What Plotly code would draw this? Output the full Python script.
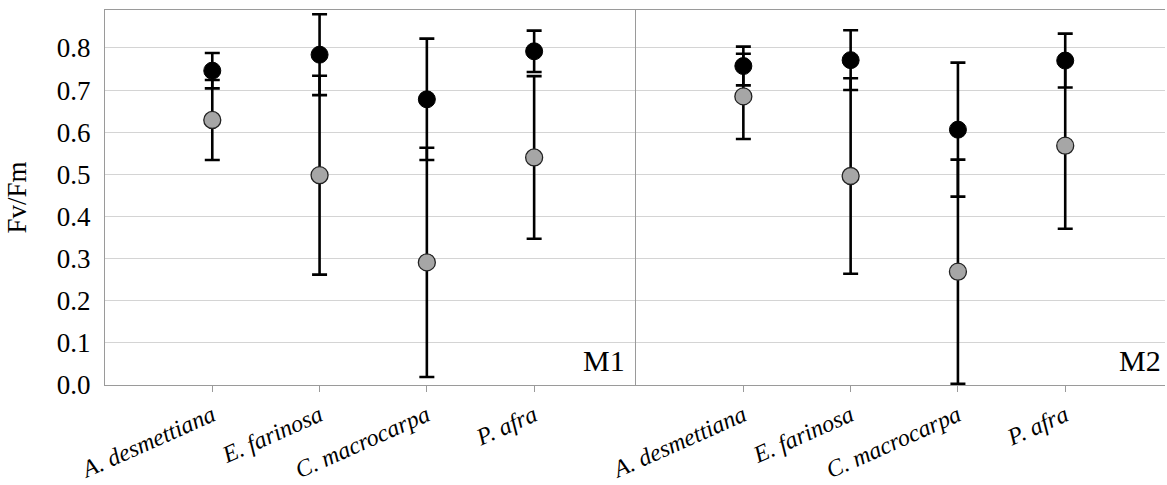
import plotly.graph_objects as go

species = ["A. desmettiana", "E. farinosa", "C. macrocarpa", "P. afra"]
panels = ["M1", "M2"]

# black series (mean, error)
black_m1 = [0.746, 0.784, 0.678, 0.792]
black_m1_err = [0.042, 0.096, 0.144, 0.049]
grey_m1 = [0.629, 0.498, 0.291, 0.540]
grey_m1_err = [0.095, 0.236, 0.272, 0.193]

black_m2 = [0.757, 0.771, 0.606, 0.770]
black_m2_err = [0.046, 0.071, 0.159, 0.064]
grey_m2 = [0.685, 0.496, 0.269, 0.568]
grey_m2_err = [0.101, 0.232, 0.266, 0.197]

y_ticks = [0.0, 0.1, 0.2, 0.3, 0.4, 0.5, 0.6, 0.7, 0.8]

FONT = "Liberation Serif"
AXIS_GREY = "#9a9a9a"
GRID = "#d4d4d4"

fig = go.Figure()

xs = list(range(len(species)))
data = [(black_m1, black_m1_err, grey_m1, grey_m1_err),
        (black_m2, black_m2_err, grey_m2, grey_m2_err)]
axis_ids = [("x", "y"), ("x2", "y2")]

for (bm, be, gm, ge), (xa, ya) in zip(data, axis_ids):
    fig.add_trace(go.Scatter(
        x=xs, y=gm, mode="markers", xaxis=xa, yaxis=ya,
        marker=dict(size=17, color="#a6a6a6", line=dict(color="#222222", width=1.3)),
        error_y=dict(type="data", array=ge, visible=True, color="black", thickness=2.6, width=7.5),
        showlegend=False))
    fig.add_trace(go.Scatter(
        x=xs, y=bm, mode="markers", xaxis=xa, yaxis=ya,
        marker=dict(size=17, color="black", line=dict(color="black", width=1)),
        error_y=dict(type="data", array=be, visible=True, color="black", thickness=2.6, width=7.5),
        showlegend=False))

def xaxis(rng, dom, anchor):
    return dict(
        domain=dom, range=rng, anchor=anchor, tickmode="array", tickvals=xs,
        ticktext=["<i>%s</i>" % s for s in species],
        tickangle=-24, ticks="outside", ticklen=6, tickcolor=AXIS_GREY,
        showgrid=False, zeroline=False,
        showline=True, linecolor=AXIS_GREY, linewidth=1.2, mirror=True,
        tickfont=dict(family=FONT, size=24, color="black"))

fig.update_layout(
    template="none",
    font=dict(family=FONT, size=24, color="black"),
    xaxis=xaxis([-1.0, 3.95], [0, 0.501], "y"),
    xaxis2=xaxis([-1.0, 3.93], [0.501, 1.0], "y2"),
    yaxis=dict(
        range=[0, 0.89], anchor="x", tickmode="array", tickvals=y_ticks,
        ticktext=["%.1f" % v for v in y_ticks],
        showgrid=True, gridcolor=GRID, gridwidth=1, zeroline=False,
        showline=True, linecolor=AXIS_GREY, linewidth=1.2, ticks="",
        ticklabelstandoff=8,
        tickfont=dict(family=FONT, size=27, color="black"),
        title=dict(text="Fv/Fm", font=dict(family=FONT, size=27, color="black"), standoff=22)),
    yaxis2=dict(
        range=[0, 0.89], anchor="x2", matches="y", tickmode="array", tickvals=y_ticks,
        showticklabels=False,
        showgrid=True, gridcolor=GRID, gridwidth=1, zeroline=False,
        showline=True, linecolor=AXIS_GREY, linewidth=1.2, ticks=""),
)

fig.add_annotation(text=panels[0], xref="x domain", yref="y domain", x=0.983, y=0.015,
                   xanchor="right", yanchor="bottom", showarrow=False,
                   font=dict(family=FONT, size=30, color="black"))
fig.add_annotation(text=panels[1], xref="x2 domain", yref="y2 domain", x=0.997, y=0.015,
                   xanchor="right", yanchor="bottom", showarrow=False,
                   font=dict(family=FONT, size=30, color="black"))

fig.update_layout(
    width=1167, height=485,
    margin=dict(l=105, r=2, t=10, b=100),
    plot_bgcolor="white", paper_bgcolor="white")

fig.write_html("out.html")
